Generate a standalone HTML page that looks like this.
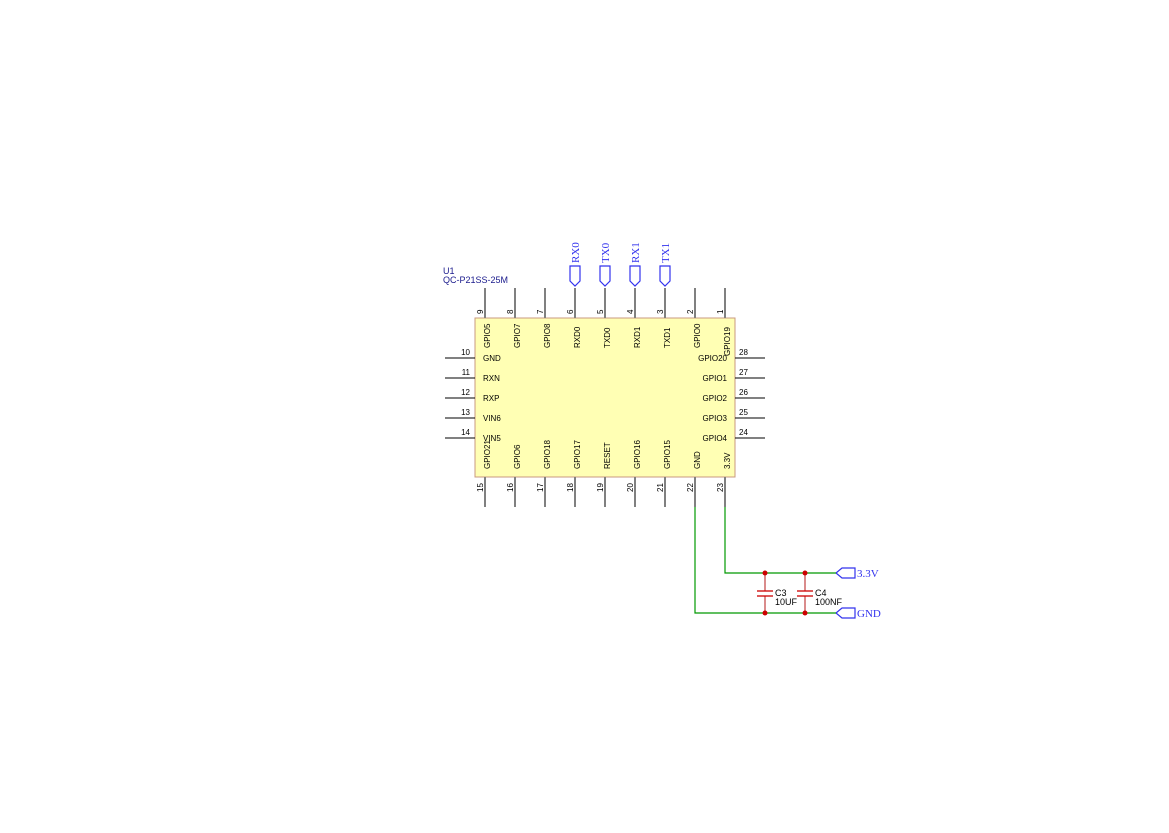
<!DOCTYPE html>
<html><head><meta charset="utf-8"><style>body{margin:0;background:#fff}</style></head><body>
<svg width="1169" height="828" xmlns="http://www.w3.org/2000/svg" font-family="Liberation Sans, DejaVu Sans, sans-serif">
<rect x="475" y="318" width="260" height="159" fill="#ffffb4" stroke="#c89a80" stroke-width="1"/>
<text x="443" y="274" font-size="9" fill="#1a1a8c">U1</text>
<text x="443" y="283" font-size="9" fill="#1a1a8c">QC-P21SS-25M</text>
<g stroke="#808080" stroke-width="2">
<line x1="485" y1="288" x2="485" y2="318"/><line x1="515" y1="288" x2="515" y2="318"/><line x1="545" y1="288" x2="545" y2="318"/><line x1="575" y1="288" x2="575" y2="318"/><line x1="605" y1="288" x2="605" y2="318"/><line x1="635" y1="288" x2="635" y2="318"/><line x1="665" y1="288" x2="665" y2="318"/><line x1="695" y1="288" x2="695" y2="318"/><line x1="725" y1="288" x2="725" y2="318"/>
<line x1="485" y1="477" x2="485" y2="507"/><line x1="515" y1="477" x2="515" y2="507"/><line x1="545" y1="477" x2="545" y2="507"/><line x1="575" y1="477" x2="575" y2="507"/><line x1="605" y1="477" x2="605" y2="507"/><line x1="635" y1="477" x2="635" y2="507"/><line x1="665" y1="477" x2="665" y2="507"/><line x1="695" y1="477" x2="695" y2="507"/><line x1="725" y1="477" x2="725" y2="507"/>
</g>
<g stroke="#000" stroke-width="1">
<line x1="445" y1="358" x2="475" y2="358"/><line x1="445" y1="378" x2="475" y2="378"/><line x1="445" y1="398" x2="475" y2="398"/><line x1="445" y1="418" x2="475" y2="418"/><line x1="445" y1="438" x2="475" y2="438"/>
<line x1="735" y1="358" x2="765" y2="358"/><line x1="735" y1="378" x2="765" y2="378"/><line x1="735" y1="398" x2="765" y2="398"/><line x1="735" y1="418" x2="765" y2="418"/><line x1="735" y1="438" x2="765" y2="438"/>
</g>
<g font-size="8" fill="#000">
<text x="470" y="355" text-anchor="end">10</text><text x="470" y="375" text-anchor="end">11</text><text x="470" y="395" text-anchor="end">12</text><text x="470" y="415" text-anchor="end">13</text><text x="470" y="435" text-anchor="end">14</text>
<text x="739" y="355">28</text><text x="739" y="375">27</text><text x="739" y="395">26</text><text x="739" y="415">25</text><text x="739" y="435">24</text>
<text x="483" y="361">GND</text><text x="483" y="381">RXN</text><text x="483" y="401">RXP</text><text x="483" y="421">VIN6</text><text x="483" y="441">VIN5</text>
<text x="727" y="361" text-anchor="end">GPIO20</text><text x="727" y="381" text-anchor="end">GPIO1</text><text x="727" y="401" text-anchor="end">GPIO2</text><text x="727" y="421" text-anchor="end">GPIO3</text><text x="727" y="441" text-anchor="end">GPIO4</text>
</g>
<g font-size="8" fill="#000">
<g>
<text transform="translate(483,314) rotate(-90)">9</text><text transform="translate(513,314) rotate(-90)">8</text><text transform="translate(543,314) rotate(-90)">7</text><text transform="translate(573,314) rotate(-90)">6</text><text transform="translate(603,314) rotate(-90)">5</text><text transform="translate(633,314) rotate(-90)">4</text><text transform="translate(663,314) rotate(-90)">3</text><text transform="translate(693,314) rotate(-90)">2</text><text transform="translate(723,314) rotate(-90)">1</text>
</g>
<text transform="translate(490,348) rotate(-90)">GPIO5</text><text transform="translate(520,348) rotate(-90)">GPIO7</text><text transform="translate(550,348) rotate(-90)">GPIO8</text><text transform="translate(580,348) rotate(-90)">RXD0</text><text transform="translate(610,348) rotate(-90)">TXD0</text><text transform="translate(640,348) rotate(-90)">RXD1</text><text transform="translate(670,348) rotate(-90)">TXD1</text><text transform="translate(700,348) rotate(-90)">GPIO0</text><text transform="translate(730,356) rotate(-90)">GPIO19</text>
<text transform="translate(490,469) rotate(-90)">GPIO21</text><text transform="translate(520,469) rotate(-90)">GPIO6</text><text transform="translate(550,469) rotate(-90)">GPIO18</text><text transform="translate(580,469) rotate(-90)">GPIO17</text><text transform="translate(610,469) rotate(-90)">RESET</text><text transform="translate(640,469) rotate(-90)">GPIO16</text><text transform="translate(670,469) rotate(-90)">GPIO15</text><text transform="translate(700,469) rotate(-90)">GND</text><text transform="translate(730,469) rotate(-90)">3.3V</text>
<text transform="translate(483,492) rotate(-90)">15</text><text transform="translate(513,492) rotate(-90)">16</text><text transform="translate(543,492) rotate(-90)">17</text><text transform="translate(573,492) rotate(-90)">18</text><text transform="translate(603,492) rotate(-90)">19</text><text transform="translate(633,492) rotate(-90)">20</text><text transform="translate(663,492) rotate(-90)">21</text><text transform="translate(693,492) rotate(-90)">22</text><text transform="translate(723,492) rotate(-90)">23</text>
</g>
<g fill="none" stroke="#3333ee" stroke-width="1.2">
<path d="M570,266 H580 V281 L575,286 L570,281 Z"/><path d="M600,266 H610 V281 L605,286 L600,281 Z"/><path d="M630,266 H640 V281 L635,286 L630,281 Z"/><path d="M660,266 H670 V281 L665,286 L660,281 Z"/>
<path d="M855,568 V578 H842 L836,573 L842,568 Z"/><path d="M855,608 V618 H842 L836,613 L842,608 Z"/>
</g>
<g font-family="Liberation Serif, serif" font-size="11" fill="#3333ee">
<text transform="translate(579,263) rotate(-90)">RX0</text><text transform="translate(609,263) rotate(-90)">TX0</text><text transform="translate(639,263) rotate(-90)">RX1</text><text transform="translate(669,263) rotate(-90)">TX1</text>
<text x="857" y="577">3.3V</text><text x="857" y="617">GND</text>
</g>
<g stroke="#009900" stroke-width="1.2" fill="none">
<path d="M725,507 V573 H836"/><path d="M695,507 V613 H836"/>
</g>
<g stroke="#c04040" stroke-width="1.2">
<line x1="765" y1="573" x2="765" y2="591"/><line x1="765" y1="596" x2="765" y2="613"/>
<line x1="805" y1="573" x2="805" y2="591"/><line x1="805" y1="596" x2="805" y2="613"/>
</g>
<g stroke="#cc0000" stroke-width="1.3">
<line x1="757" y1="591" x2="773" y2="591"/><line x1="757" y1="596" x2="773" y2="596"/>
<line x1="797" y1="591" x2="813" y2="591"/><line x1="797" y1="596" x2="813" y2="596"/>
</g>
<g fill="#cc0000"><circle cx="765" cy="573" r="2.5"/><circle cx="805" cy="573" r="2.5"/><circle cx="765" cy="613" r="2.5"/><circle cx="805" cy="613" r="2.5"/></g>
<g font-size="9" fill="#000">
<text x="775" y="596">C3</text><text x="775" y="605">10UF</text><text x="815" y="596">C4</text><text x="815" y="605">100NF</text>
</g>
</svg>
</body></html>
